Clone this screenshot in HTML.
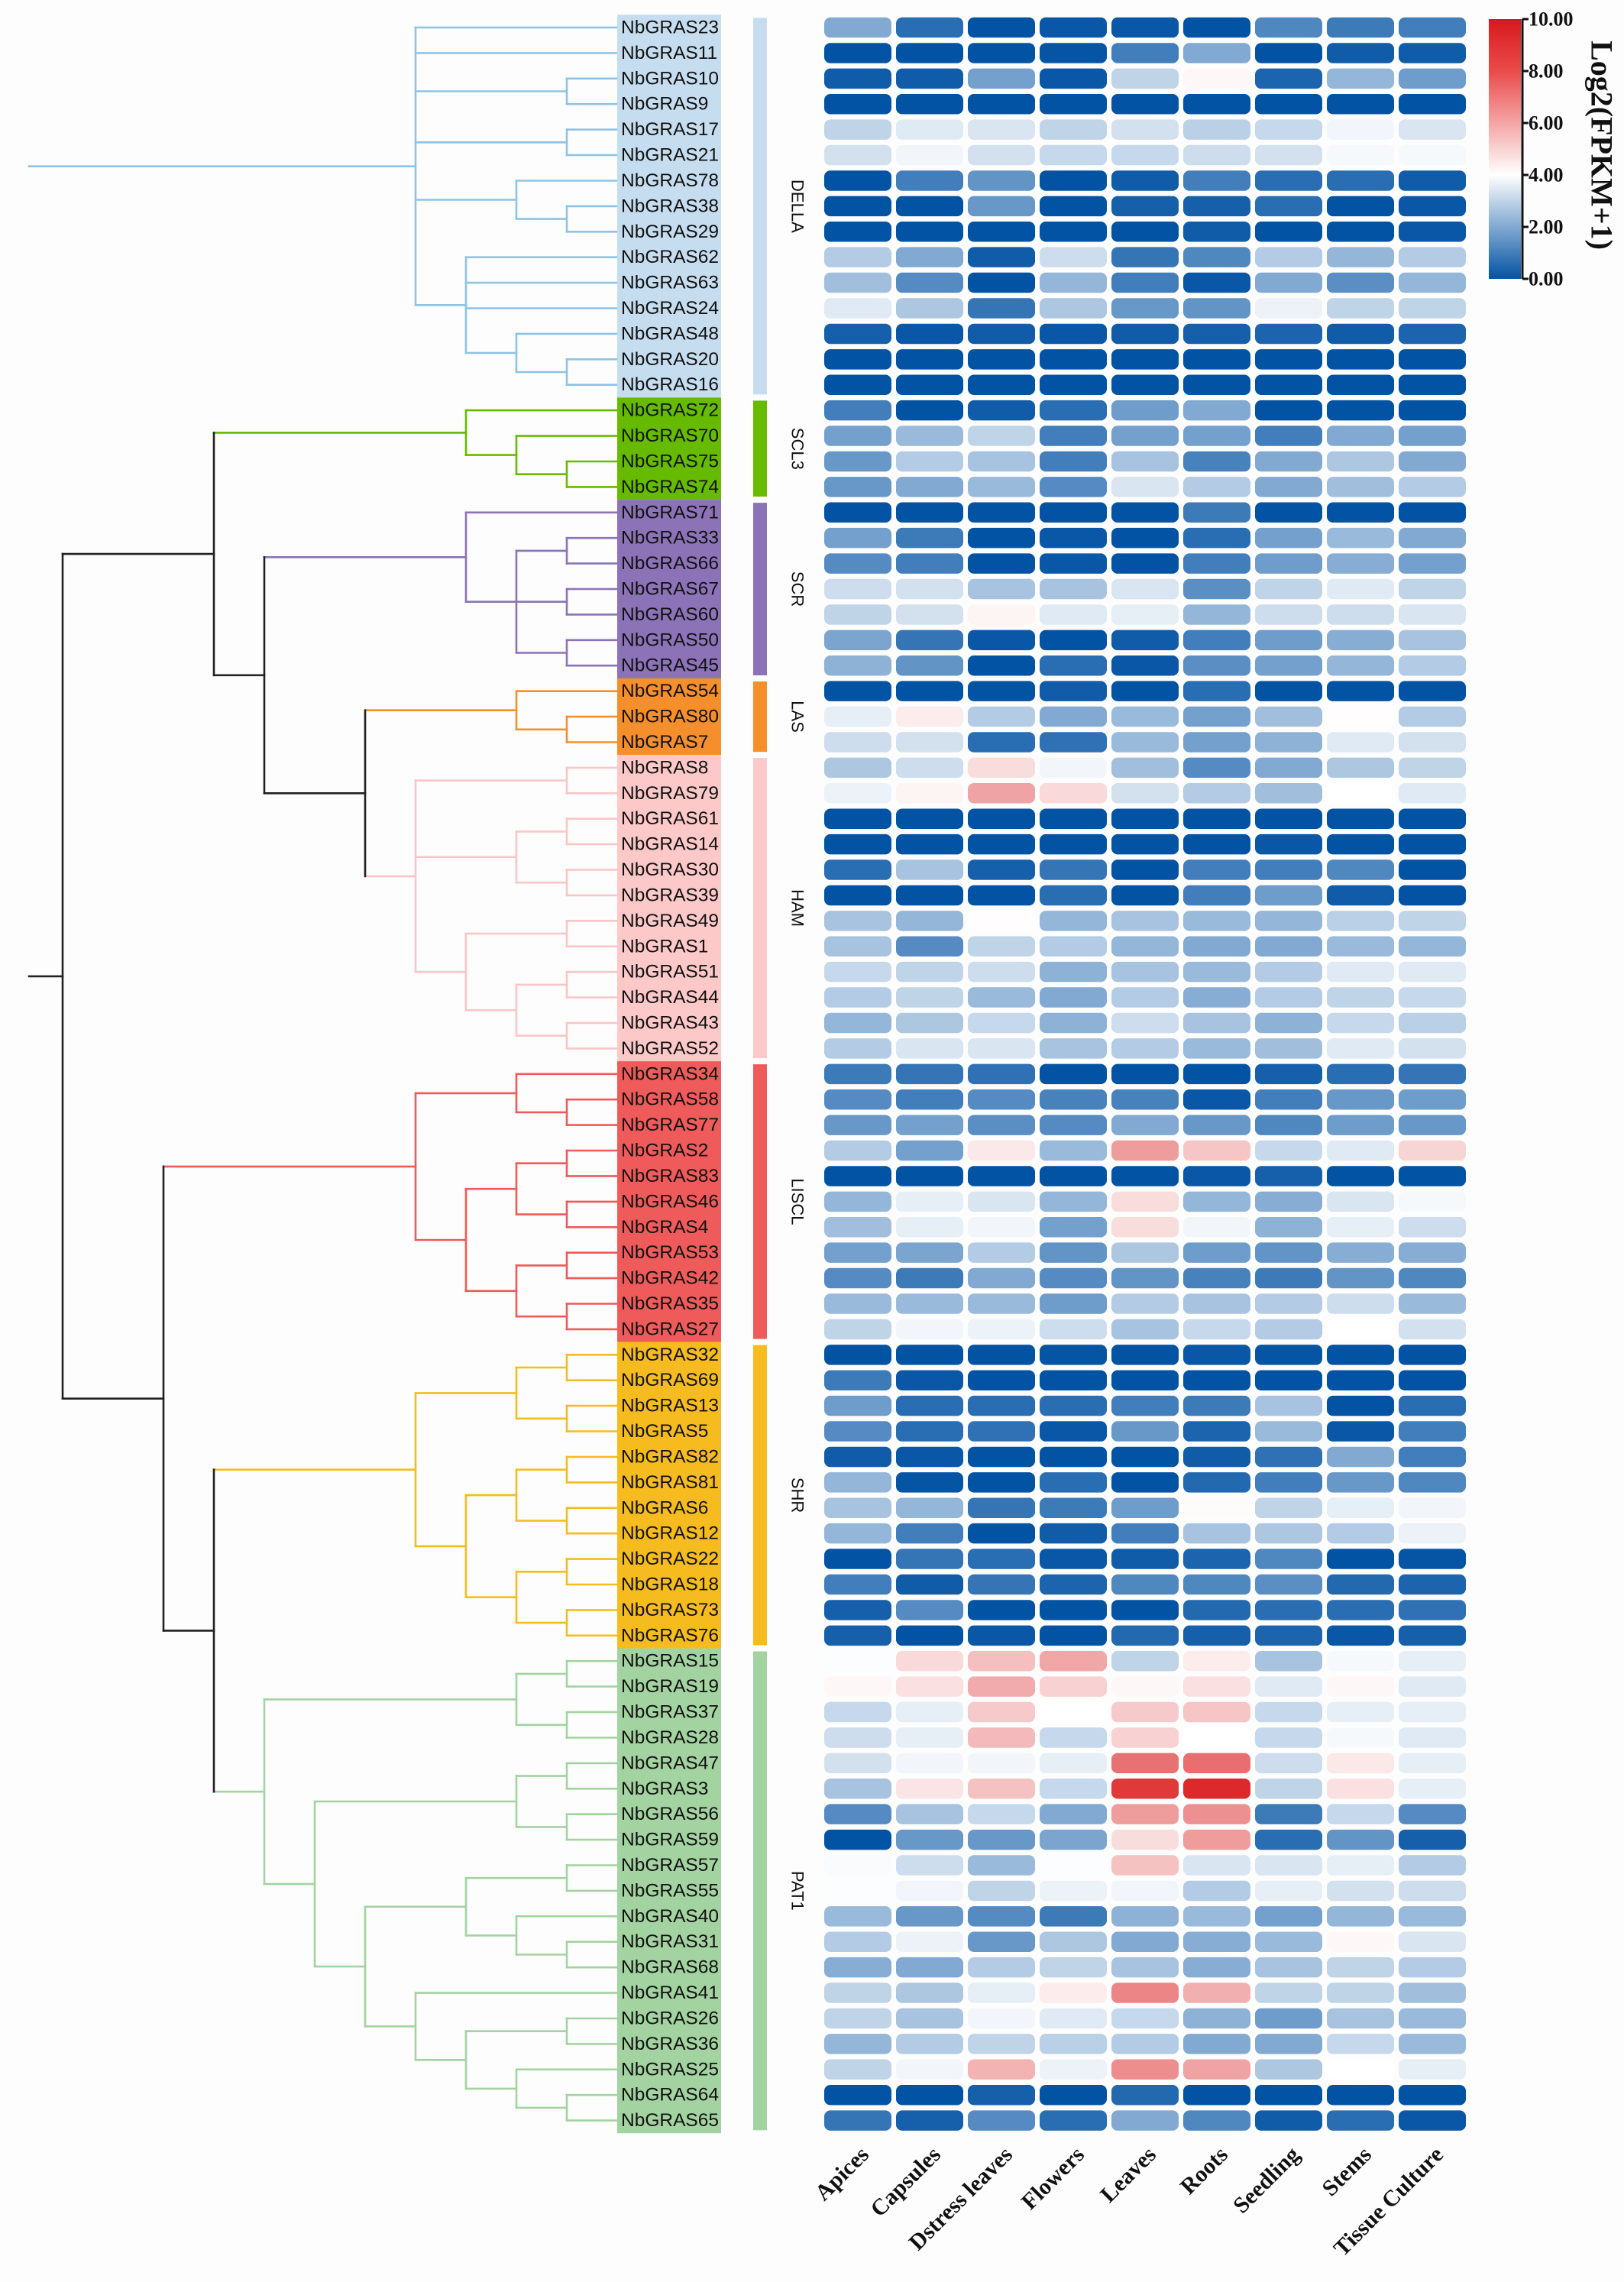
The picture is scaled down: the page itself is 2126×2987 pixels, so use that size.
<!DOCTYPE html>
<html><head><meta charset="utf-8">
<style>
html,body{margin:0;padding:0;background:#fdfdfd;}
svg{display:block;}
</style></head>
<body>
<svg id="chart" xmlns="http://www.w3.org/2000/svg" width="2126" height="2987" viewBox="0 0 2126 2987">
<rect x="0" y="0" width="2126" height="2987" fill="#fdfdfd"/>
<defs>
<linearGradient id="cbgrad" x1="0" y1="1" x2="0" y2="0">
<stop offset="0" stop-color="#0353a4"/>
<stop offset="0.4" stop-color="#ffffff"/>
<stop offset="0.8" stop-color="#ea4b4b"/>
<stop offset="1" stop-color="#d7191c"/>
</linearGradient>
</defs>
<g id="tree"></g>
<g id="labels"></g>
<g id="groups"></g>
<g id="heat"></g>
<g id="xlabels"></g>
<g id="colorbar">
<rect x="1949" y="25" width="42" height="340" fill="url(#cbgrad)"/>
<line x1="1993" y1="25" x2="1993" y2="365" stroke="#111" stroke-width="3"/>
<text x="2097" y="190" transform="rotate(90 2097 190)" text-anchor="middle" dominant-baseline="central" font-family="Liberation Serif, serif" font-weight="bold" font-size="40" fill="#111">Log2(FPKM+1)</text>
</g>
</svg>
<script>
const genes = ["NbGRAS23","NbGRAS11","NbGRAS10","NbGRAS9","NbGRAS17","NbGRAS21","NbGRAS78","NbGRAS38","NbGRAS29","NbGRAS62","NbGRAS63","NbGRAS24","NbGRAS48","NbGRAS20","NbGRAS16",
"NbGRAS72","NbGRAS70","NbGRAS75","NbGRAS74",
"NbGRAS71","NbGRAS33","NbGRAS66","NbGRAS67","NbGRAS60","NbGRAS50","NbGRAS45",
"NbGRAS54","NbGRAS80","NbGRAS7",
"NbGRAS8","NbGRAS79","NbGRAS61","NbGRAS14","NbGRAS30","NbGRAS39","NbGRAS49","NbGRAS1","NbGRAS51","NbGRAS44","NbGRAS43","NbGRAS52",
"NbGRAS34","NbGRAS58","NbGRAS77","NbGRAS2","NbGRAS83","NbGRAS46","NbGRAS4","NbGRAS53","NbGRAS42","NbGRAS35","NbGRAS27",
"NbGRAS32","NbGRAS69","NbGRAS13","NbGRAS5","NbGRAS82","NbGRAS81","NbGRAS6","NbGRAS12","NbGRAS22","NbGRAS18","NbGRAS73","NbGRAS76",
"NbGRAS15","NbGRAS19","NbGRAS37","NbGRAS28","NbGRAS47","NbGRAS3","NbGRAS56","NbGRAS59","NbGRAS57","NbGRAS55","NbGRAS40","NbGRAS31","NbGRAS68","NbGRAS41","NbGRAS26","NbGRAS36","NbGRAS25","NbGRAS64","NbGRAS65"];
const tissues = ["Apices","Capsules","Dstress leaves","Flowers","Leaves","Roots","Seedling","Stems","Tissue Culture"];
const groupNames = ["DELLA","SCL3","SCR","LAS","HAM","LISCL","SHR","PAT1"];
const groupStart = [0,15,19,26,29,41,52,64];
const groupEnd = [14,18,25,28,40,51,63,82];
const colorbarTicks = [0,2,4,6,8,10];
const expr = [
[2.0,0.6,0,0.1,0.1,0,1.2,0.9,1.0],
[0,0,0,0.05,1.0,2.0,0,0.2,0.2],
[0.2,0.2,1.8,0.1,3.0,4.2,0.4,2.3,1.7],
[0,0,0,0,0,0,0,0,0],
[3.0,3.5,3.4,3.0,3.3,2.9,3.1,3.8,3.4],
[3.3,3.8,3.3,3.1,3.1,3.2,3.3,3.85,3.85],
[0,1.0,1.5,0,0.2,1.0,0.6,0.6,0.2],
[0,0,1.6,0,0.3,0.3,0.6,0,0.1],
[0,0,0,0,0,0.2,0,0,0.1],
[2.8,2.0,0.2,3.2,0.8,1.2,2.8,2.3,2.8],
[2.5,1.3,0,2.3,1.0,0.1,2.0,1.4,2.3],
[3.5,2.7,0.8,2.7,1.6,1.5,3.7,3.0,3.0],
[0.3,0.1,0.2,0.1,0.2,0.3,0.4,0.2,0.4],
[0,0,0,0,0,0,0,0,0],
[0,0,0,0,0,0,0,0,0],
[1.0,0,0.2,0.6,1.7,2.0,0,0,0],
[1.8,2.4,3.0,1.0,1.8,1.8,1.0,2.0,1.8],
[1.6,2.8,2.6,1.0,2.6,1.1,2.0,2.7,2.0],
[1.6,2.0,2.4,1.3,3.4,2.8,2.0,2.5,2.8],
[0,0,0,0,0,0.9,0,0,0],
[1.8,0.9,0,0.1,0,0.6,1.8,2.4,2.0],
[1.3,1.0,0,0.1,0,1.0,1.7,2.1,1.8],
[3.2,3.3,2.6,2.6,3.4,1.4,3.0,3.5,3.0],
[3.0,3.3,4.3,3.5,3.6,2.3,3.2,3.2,3.4],
[1.9,0.8,0.1,0,0.2,1.0,1.7,2.1,2.6],
[2.2,1.5,0,0.6,0.1,1.4,1.8,2.3,2.8],
[0,0,0,0.2,0,0.6,0,0,0],
[3.6,4.5,2.8,2.0,2.4,1.8,2.5,4.05,2.8],
[3.2,3.3,0.6,0.7,2.4,1.8,2.2,3.5,3.3],
[2.7,3.2,4.9,3.8,2.5,1.3,2.0,2.7,3.0],
[3.7,4.3,6.4,5.0,3.3,2.8,2.5,4.0,3.5],
[0,0,0,0,0,0,0,0,0],
[0,0,0,0,0,0,0.1,0,0],
[0.6,2.6,0.3,0.8,0,1.0,1.0,1.2,0],
[0,0,0,0.6,0,1.0,1.7,0.2,0],
[2.6,2.3,4.05,2.3,2.6,2.4,2.3,2.9,3.0],
[2.6,1.3,3.0,2.8,2.3,2.0,2.0,2.4,2.3],
[3.1,3.0,3.2,2.2,2.6,2.4,2.8,3.5,3.5],
[2.8,3.0,2.4,2.0,2.8,2.1,2.8,3.0,3.1],
[2.3,2.7,3.1,2.2,3.2,2.6,2.2,3.1,2.9],
[2.8,3.4,3.4,2.6,2.8,2.4,2.5,3.5,3.3],
[0.9,0.8,0.7,0,0,0,0.3,0.6,0.8],
[1.3,1.0,1.3,1.1,1.1,0.1,1.0,1.6,1.7],
[1.6,1.8,1.4,1.3,2.0,1.6,1.2,1.7,1.6],
[2.8,1.8,4.6,2.4,6.6,5.5,3.1,3.5,5.1],
[0,0,0,0,0,0.1,0.3,0,0],
[2.3,3.6,3.4,2.3,4.9,2.3,2.1,3.4,3.85],
[2.5,3.6,3.8,1.8,4.9,3.8,2.2,3.6,3.2],
[1.8,1.9,2.8,1.5,2.7,1.7,1.5,2.1,2.1],
[1.3,0.9,2.0,1.3,1.5,1.1,0.9,1.5,1.2],
[2.4,2.4,2.4,1.7,2.8,2.6,2.8,3.2,2.4],
[3.0,3.8,3.7,3.2,2.6,3.1,2.8,4.0,3.3],
[0,0,0,0.05,0,0.1,0.05,0,0],
[0.9,0.1,0,0,0,0,0,0,0],
[1.7,0.6,0.6,0.6,1.0,0.9,2.6,0,0.6],
[1.3,0.6,0.7,0.1,1.6,0.4,2.4,0.1,1.0],
[0.2,0.1,0,0,0,0.2,0.7,2.0,1.0],
[2.3,0.05,0,0.6,0,0.5,1.0,1.6,1.2],
[2.6,2.3,0.8,0.9,1.7,4.1,3.0,3.6,3.8],
[2.3,1.0,0,0.2,1.0,2.6,2.7,2.8,3.7],
[0,0.8,0.6,0.1,0.2,0.4,1.2,0,0.05],
[1.0,0.2,0.8,0.4,1.2,1.2,1.4,0.5,0.4],
[0.3,1.3,0,0,0,0.5,0.6,0.6,0.7],
[0.3,0,0.1,0,0.5,0.3,0.4,0.1,0.3],
[3.95,5.0,5.7,6.3,3.0,4.5,2.6,3.85,3.6],
[4.2,4.8,6.2,5.2,4.2,4.8,3.5,4.2,3.5],
[3.1,3.6,5.4,4.0,5.4,5.5,3.1,3.6,3.6],
[3.2,3.6,5.8,3.1,5.2,4.0,3.1,3.85,3.5],
[3.3,3.8,3.8,3.6,7.7,7.8,3.2,4.6,3.6],
[2.6,4.7,5.6,3.1,9.2,9.6,3.0,4.8,3.6],
[1.3,2.6,3.1,2.0,6.6,6.9,0.9,3.1,1.3],
[0,1.6,1.6,1.9,4.9,6.6,0.6,1.5,0.3],
[3.9,3.2,2.4,3.95,5.6,3.4,3.4,3.6,2.8],
[3.95,3.8,3.0,3.7,3.8,2.8,3.6,3.3,3.2],
[2.4,1.6,1.3,0.9,2.2,2.4,1.8,2.3,2.4],
[2.8,3.7,1.6,2.7,2.0,2.1,2.4,4.2,3.4],
[2.1,2.0,2.8,3.0,2.6,2.1,2.6,3.0,2.8],
[3.0,2.7,3.6,4.5,7.2,6.1,3.0,3.0,2.5],
[3.0,2.6,3.8,3.5,3.1,2.2,1.7,2.6,2.4],
[2.3,2.8,3.0,2.9,2.8,2.0,2.0,3.1,2.4],
[3.0,3.8,6.0,3.7,7.0,6.4,2.7,4.0,3.6],
[0,0,0.3,0,0.5,0,0,0,0],
[0.8,0.3,1.3,0.6,2.0,1.2,0.2,0.6,0.1]
];

const NS = "http://www.w3.org/2000/svg";
const groupFill = ["#c6ddef","#66bb00","#8c73b8","#f58f2b","#fcc8c8","#ef5b5b","#f6bc1f","#a3d3a0"];
const groupLine = ["#8ec3e6","#66bb00","#8c73b8","#f58f2b","#fcc5c5","#ef5a5a","#f6bc1f","#a3d3a0"];
const ROW0 = 36, PITCH = 33.41, COL0 = 1079, CPITCH = 94, CW = 88, CH = 26.5;
const LEAFX = 808;
function yRow(r){ return ROW0 + PITCH*r; }
function xCol(c){ return COL0 + CPITCH*c; }
function xLevel(k){ return LEAFX - 66*k; }
function mk(tag, attrs, parent){ const e=document.createElementNS(NS,tag); for(const k in attrs) e.setAttribute(k,attrs[k]); parent.appendChild(e); return e; }

function lerp(a,b,t){ return Math.round(a+(b-a)*t); }
function colorFor(v){
  const blue=[3,83,164], white=[255,255,255], red=[218,26,28];
  let c;
  if(v<=4){ const t=Math.max(0,v)/4; c=[lerp(blue[0],white[0],t),lerp(blue[1],white[1],t),lerp(blue[2],white[2],t)]; }
  else { const t=Math.min(1,(v-4)/6); c=[lerp(white[0],red[0],t),lerp(white[1],red[1],t),lerp(white[2],red[2],t)]; }
  return "rgb("+c.join(",")+")";
}

const heat = document.getElementById("heat");
for(let r=0;r<expr.length;r++){
  for(let c=0;c<tissues.length;c++){
    const cell = mk("rect",{x:xCol(c),y:(yRow(r)-CH/2).toFixed(1),width:CW,height:CH,rx:8,ry:8,fill:colorFor(expr[r][c])},heat);
    
    
  }
}

const xl = document.getElementById("xlabels");
for(let c=0;c<tissues.length;c++){
  const x = xCol(c)+CW/2+16, y = 2822;
  const t = mk("text",{x:x,y:y,transform:"rotate(-45 "+x+" "+y+")","text-anchor":"end","font-family":"Liberation Serif, serif","font-weight":"bold","font-size":"30",fill:"#111"},xl);
  t.textContent = tissues[c];
  
  
}

const lab = document.getElementById("labels");
const grp = document.getElementById("groups");
for(let g=0; g<groupNames.length; g++){
  const top = yRow(groupStart[g]) - PITCH/2, bot = yRow(groupEnd[g]) + PITCH/2;
  const bg = mk("rect",{x:808,y:top.toFixed(1),width:136,height:(bot-top).toFixed(1),fill:groupFill[g]},lab);
  
  
  const bar = mk("rect",{x:986,y:(top+4).toFixed(1),width:18,height:(bot-top-8).toFixed(1),fill:groupFill[g]},grp);
  
  
  const cy = (top+bot)/2;
  const gt = mk("text",{x:1044,y:cy.toFixed(1),transform:"rotate(90 1044 "+cy.toFixed(1)+")","text-anchor":"middle","dominant-baseline":"central","font-family":"Liberation Sans, sans-serif","font-size":"22",fill:"#111"},grp);
  gt.textContent = groupNames[g];
  
  
}
for(let r=0;r<genes.length;r++){
  const t = mk("text",{x:813,y:yRow(r).toFixed(1),"dominant-baseline":"central","font-family":"Liberation Sans, sans-serif","font-size":"24.5",fill:"#111"},lab);
  t.textContent = genes[r];
  
  
}

const cb = document.getElementById("colorbar");
for(const v of colorbarTicks){
  const y = 365 - v/10*340;
  const tl = mk("line",{x1:1993,y1:y,x2:2001,y2:y,stroke:"#111","stroke-width":3},cb);
  
  
  const tt = mk("text",{x:2001,y:y,"dominant-baseline":"central","font-family":"Liberation Serif, serif","font-weight":"bold","font-size":"26",fill:"#111"},cb);
  tt.textContent = v.toFixed(2);
  
  
}

const BLACK = "#222";
const DELLA = {c:groupLine[0], n:[4,0,1,[1,2,3],[1,4,5],[2,6,[1,7,8]],[3,9,10,11,[2,12,[1,13,14]]]]};
const SCL3 = {c:groupLine[1], n:[3,15,[2,16,[1,17,18]]]};
const SCR = {c:groupLine[2], n:[3,19,[2,[1,20,21],[1,22,23],[1,24,25]]]};
const LAS = {c:groupLine[3], n:[2,26,[1,27,28]]};
const HAM = {c:groupLine[4], n:[4,[1,29,30],[2,[1,31,32],[1,33,34]],[3,[1,35,36],[2,[1,37,38],[1,39,40]]]]};
const LISCL = {c:groupLine[5], n:[4,[2,41,[1,42,43]],[3,[2,[1,44,45],[1,46,47]],[2,[1,48,49],[1,50,51]]]]};
const SHR = {c:groupLine[6], n:[4,[2,[1,52,53],[1,54,55]],[3,[2,[1,56,57],[1,58,59]],[2,[1,60,61],[1,62,63]]]]};
const PAT1 = {c:groupLine[7], n:[7,[2,[1,64,65],[1,66,67]],[6,[2,[1,68,69],[1,70,71]],[5,[3,[1,72,73],[2,74,[1,75,76]]],[4,77,[3,[1,78,79],[2,80,[1,81,82]]]]]]]};
const backbone = {c:BLACK, n:[11,{c:BLACK,n:[8,SCL3,{c:BLACK,n:[7,SCR,{c:BLACK,n:[5,LAS,HAM]}]}]},{c:BLACK,n:[9,LISCL,{c:BLACK,n:[8,SHR,PAT1]}]}]};
const tree = document.getElementById("tree");
function seg(x1,y1,x2,y2,col){
  const l = mk("line",{x1:x1,y1:y1.toFixed(1),x2:x2,y2:y2.toFixed(1),stroke:col,"stroke-width":2.6,"stroke-linecap":"square"},tree);
  
  
}
function draw(node, col){
  if(typeof node === "number") return {x:LEAFX, y:yRow(node), col:col};
  let n = node, c = col;
  if(!Array.isArray(node)){ n = node.n; c = node.c; }
  const x = xLevel(n[0]);
  const kids = [];
  for(let i=1;i<n.length;i++){ kids.push(draw(n[i], c)); }
  let ymin=Infinity,ymax=-Infinity;
  for(const k of kids){ ymin=Math.min(ymin,k.y); ymax=Math.max(ymax,k.y); seg(x,k.y,k.x,k.y,k.col); }
  seg(x,ymin,x,ymax,c);
  return {x:x, y:(ymin+ymax)/2, col:c};
}
const r1 = draw(backbone, BLACK);
seg(38, r1.y, r1.x, r1.y, BLACK);
const r2 = draw(DELLA, groupLine[0]);
seg(38, r2.y, r2.x, r2.y, groupLine[0]);
</script>
</body></html>
